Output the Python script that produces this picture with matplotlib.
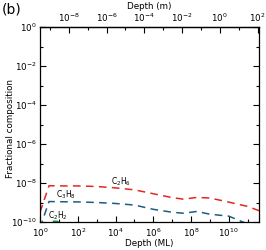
import numpy as np
import matplotlib
matplotlib.use("Agg")
import matplotlib.pyplot as plt
from matplotlib.ticker import FixedLocator, NullFormatter, LogFormatterSciNotation

plt.rcParams["font.family"] = ["DejaVu Sans"]
plt.rcParams["mathtext.fontset"] = "dejavusans"
plt.rcParams["mathtext.default"] = "regular"

# depth in monolayers
depth_ml = [1, 3, 10, 100, 1e3, 1e4, 1e5, 1e6, 1e7, 4e7, 2e8, 1e9, 1e10, 1e11, 4e11]
# log10 fractional composition
c2h6_log = [-9.5, -8.14, -8.15, -8.15, -8.18, -8.25, -8.35, -8.55, -8.75, -8.83, -8.74, -8.77, -8.98, -9.2, -9.42]
c3h8_log = [-10.3, -8.95, -8.96, -8.97, -9.0, -9.05, -9.13, -9.35, -9.5, -9.55, -9.46, -9.6, -9.7, -10.1, -10.4]
depth_ml_c2h2 = [1, 3, 8, 30, 100]
c2h2_log = [-11.0, -9.96, -9.96, -10.3, -11.0]

ML_TO_M = 3e-10

fig = plt.figure(figsize=(2.66, 2.5), dpi=100)
ax = fig.add_axes([0.1504, 0.112, 0.8233, 0.78])

ax.plot(depth_ml, 10 ** np.array(c2h6_log), color="#e3281f", lw=1.1, dashes=(5, 3.5))
ax.plot(depth_ml, 10 ** np.array(c3h8_log), color="#1b5e80", lw=1.1, dashes=(5, 3.5))
ax.plot(depth_ml_c2h2, 10 ** np.array(c2h2_log), color="#1a9a50", lw=1.1, dashes=(5, 3.5))

ax.set_xscale("log")
ax.set_yscale("log")
ax.set_xlim(1, 4e11)
ax.set_ylim(1e-10, 1)

fs = 6.3
ax.xaxis.set_major_locator(FixedLocator([10.0 ** k for k in range(0, 12, 2)]))
ax.xaxis.set_minor_locator(FixedLocator([10.0 ** k for k in range(1, 12, 2)]))
ax.xaxis.set_minor_formatter(NullFormatter())
ax.yaxis.set_major_locator(FixedLocator([10.0 ** k for k in range(-10, 1, 2)]))
ax.yaxis.set_minor_locator(FixedLocator([10.0 ** k for k in range(-9, 0, 2)]))
ax.yaxis.set_minor_formatter(NullFormatter())
ax.tick_params(which="both", direction="in", top=False, right=True, labelsize=fs, width=0.8)
ax.tick_params(which="major", length=4, pad=2.5)
ax.tick_params(which="minor", length=2)
ax.tick_params(axis="x", which="major", pad=3.2)
for s in ax.spines.values():
    s.set_linewidth(0.9)
# nudge the lowest y label up a little so it clears the 10^0 label below
for lbl in ax.get_yticklabels():
    lbl.set_verticalalignment("center_baseline")

ax.set_xlabel("Depth (ML)", fontsize=fs, labelpad=0)
ax.set_ylabel("Fractional composition", fontsize=fs)
ax.yaxis.set_label_coords(-0.112, 0.48)

top = ax.secondary_xaxis("top", functions=(lambda x: x * ML_TO_M, lambda m: m / ML_TO_M))
top.set_xscale("log")
top.xaxis.set_major_locator(FixedLocator([10.0 ** k for k in range(-8, 3, 2)]))
top.xaxis.set_minor_locator(FixedLocator([10.0 ** k for k in range(-9, 3, 2)]))
top.xaxis.set_major_formatter(LogFormatterSciNotation())
top.xaxis.set_minor_formatter(NullFormatter())
top.tick_params(which="both", direction="in", labelsize=fs, width=0.8)
top.tick_params(which="major", length=4, pad=2)
top.tick_params(which="minor", length=2)
top.spines["top"].set_linewidth(0.9)
top.set_xlabel("Depth (m)", fontsize=fs, labelpad=2)

ax.text(10 ** 4.3, 10 ** -7.95, "C$_2$H$_6$", fontsize=5.5, ha="center", va="center")
ax.text(10 ** 1.4, 10 ** -8.6, "C$_3$H$_8$", fontsize=5.5, ha="center", va="center")
ax.text(10 ** 0.93, 10 ** -9.68, "C$_2$H$_2$", fontsize=5.5, ha="center", va="center")

fig.text(0.008, 0.99, "(b)", fontsize=10, ha="left", va="top")

fig.savefig("out.png", dpi=100)
